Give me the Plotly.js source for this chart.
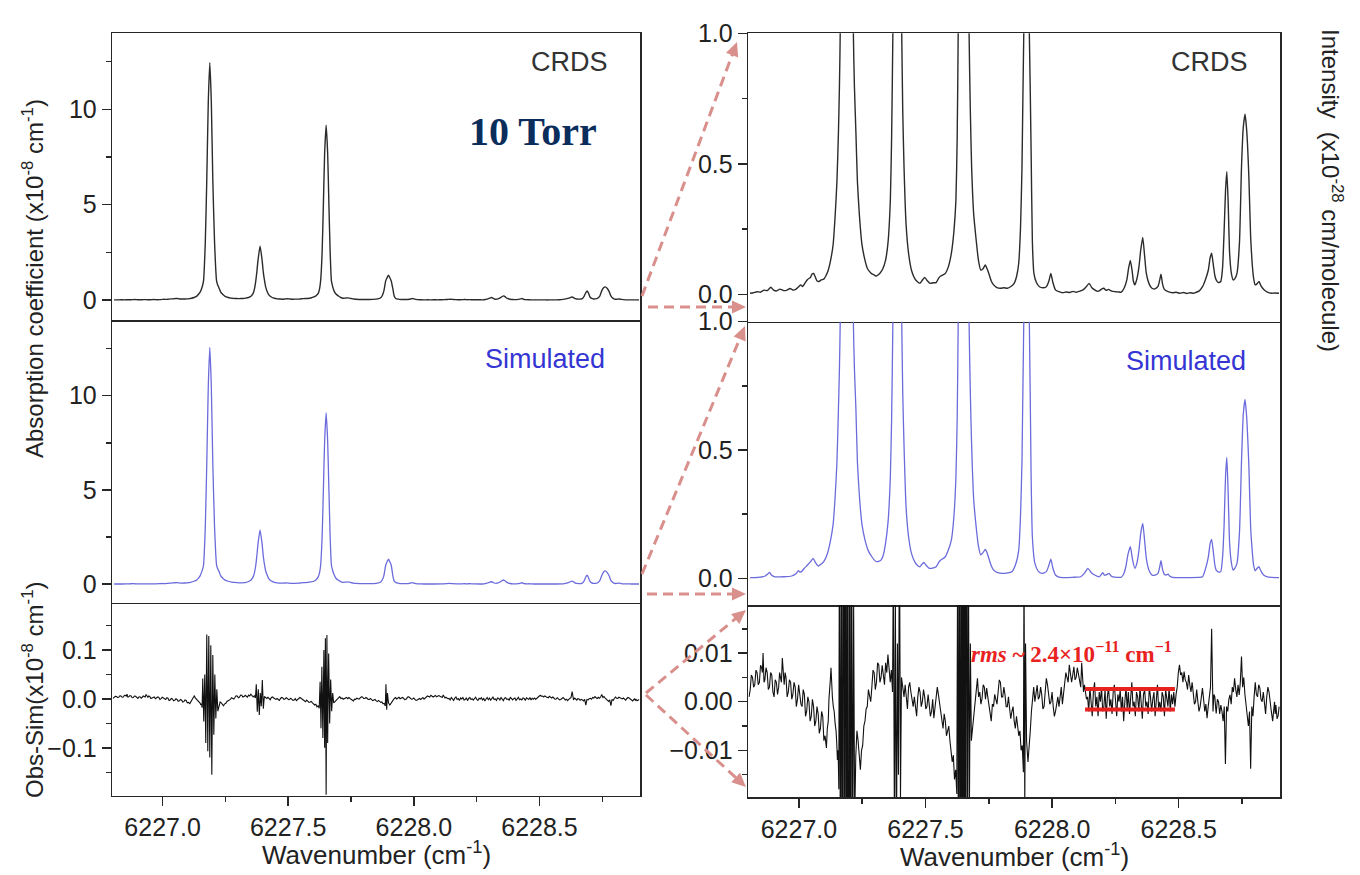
<!DOCTYPE html>
<html>
<head>
<meta charset="utf-8">
<script src="https://cdn.plot.ly/plotly-3.0.1.min.js"></script>
<style>html,body{margin:0;padding:0;background:#fff;}#chart{width:1360px;height:875px;}</style>
</head>
<body>
<div id="chart"></div>
<script>
// ---------------- DATA (wavenumber in cm^-1, absorption in 1e-8 cm^-1) ----------------
const crdsX = [6226.807,6226.820,6226.835,6226.848,6226.862,6226.875,6226.889,6226.900,6226.912,6226.925,6226.940,6226.953,6226.965,6226.978,6226.989,6227.000,6227.007,6227.015,6227.025,6227.034,6227.046,6227.052,6227.058,6227.064,6227.071,6227.079,6227.088,6227.098,6227.106,6227.115,6227.125,6227.135,6227.143,6227.150,6227.156,6227.160,6227.163,6227.170,6227.176,6227.182,6227.188,6227.194,6227.200,6227.207,6227.215,6227.219,6227.225,6227.231,6227.239,6227.249,6227.261,6227.270,6227.279,6227.288,6227.297,6227.305,6227.312,6227.319,6227.330,6227.342,6227.352,6227.361,6227.366,6227.371,6227.375,6227.380,6227.388,6227.396,6227.401,6227.406,6227.410,6227.415,6227.423,6227.433,6227.445,6227.457,6227.468,6227.478,6227.488,6227.497,6227.507,6227.518,6227.530,6227.542,6227.552,6227.560,6227.568,6227.578,6227.590,6227.602,6227.612,6227.620,6227.625,6227.629,6227.635,6227.640,6227.645,6227.651,6227.657,6227.662,6227.667,6227.672,6227.677,6227.682,6227.690,6227.700,6227.709,6227.718,6227.727,6227.736,6227.743,6227.750,6227.760,6227.769,6227.782,6227.796,6227.810,6227.823,6227.837,6227.850,6227.860,6227.868,6227.875,6227.881,6227.888,6227.894,6227.899,6227.904,6227.910,6227.917,6227.922,6227.928,6227.938,6227.950,6227.963,6227.977,6227.987,6227.995,6228.003,6228.013,6228.027,6228.041,6228.055,6228.070,6228.083,6228.095,6228.110,6228.122,6228.134,6228.146,6228.157,6228.168,6228.177,6228.186,6228.195,6228.204,6228.213,6228.222,6228.235,6228.249,6228.262,6228.273,6228.285,6228.295,6228.302,6228.309,6228.316,6228.321,6228.327,6228.335,6228.343,6228.350,6228.358,6228.365,6228.372,6228.383,6228.394,6228.406,6228.418,6228.425,6228.430,6228.436,6228.443,6228.458,6228.476,6228.490,6228.505,6228.520,6228.530,6228.545,6228.558,6228.567,6228.580,6228.594,6228.605,6228.617,6228.624,6228.630,6228.637,6228.643,6228.648,6228.656,6228.666,6228.673,6228.679,6228.685,6228.690,6228.695,6228.701,6228.708,6228.715,6228.722,6228.730,6228.740,6228.748,6228.755,6228.762,6228.769,6228.777,6228.784,6228.790,6228.796,6228.802,6228.809,6228.817,6228.825,6228.835,6228.850,6228.866,6228.880,6228.896];
const crdsY = [0.004,0.006,0.010,0.008,0.016,0.014,0.027,0.016,0.013,0.020,0.014,0.016,0.022,0.016,0.020,0.030,0.036,0.030,0.045,0.057,0.065,0.078,0.080,0.068,0.052,0.049,0.055,0.058,0.070,0.090,0.13,0.19,0.30,0.43,0.62,0.80,1.0,3.0,6.3,10.4,12.45,10.4,6.3,3.0,1.0,0.80,0.62,0.43,0.30,0.19,0.13,0.10,0.087,0.078,0.074,0.070,0.074,0.080,0.095,0.13,0.20,0.36,0.60,1.0,1.45,2.1,2.83,2.1,1.45,1.0,0.70,0.49,0.27,0.157,0.09,0.061,0.048,0.042,0.055,0.065,0.052,0.042,0.044,0.045,0.062,0.070,0.074,0.080,0.105,0.157,0.24,0.36,0.60,1.0,2.5,5.0,7.7,9.17,7.7,5.0,2.5,1.0,0.70,0.49,0.31,0.208,0.13,0.093,0.098,0.112,0.098,0.080,0.050,0.036,0.026,0.023,0.025,0.023,0.030,0.042,0.070,0.119,0.25,0.49,1.0,1.18,1.30,1.18,1.0,0.55,0.20,0.08,0.045,0.029,0.025,0.029,0.050,0.08,0.045,0.017,0.010,0.006,0.009,0.007,0.011,0.008,0.012,0.017,0.028,0.042,0.025,0.017,0.012,0.013,0.020,0.023,0.015,0.019,0.012,0.010,0.009,0.008,0.025,0.055,0.100,0.130,0.090,0.050,0.036,0.060,0.106,0.170,0.218,0.150,0.080,0.040,0.023,0.021,0.030,0.055,0.077,0.040,0.019,0.010,0.006,0.008,0.004,0.007,0.003,0.006,0.004,0.007,0.012,0.029,0.055,0.093,0.140,0.157,0.110,0.070,0.055,0.045,0.049,0.100,0.234,0.40,0.47,0.36,0.157,0.080,0.055,0.060,0.080,0.200,0.49,0.64,0.69,0.62,0.45,0.22,0.119,0.060,0.036,0.040,0.049,0.032,0.019,0.008,0.004,0.005,0.004];

const simX = [6226.807,6226.840,6226.865,6226.876,6226.884,6226.892,6226.905,6226.940,6226.971,6226.988,6226.998,6227.004,6227.011,6227.022,6227.034,6227.046,6227.056,6227.066,6227.076,6227.087,6227.098,6227.112,6227.125,6227.135,6227.143,6227.150,6227.156,6227.160,6227.163,6227.170,6227.176,6227.182,6227.188,6227.194,6227.200,6227.207,6227.215,6227.219,6227.225,6227.231,6227.239,6227.249,6227.261,6227.275,6227.288,6227.297,6227.306,6227.315,6227.324,6227.333,6227.342,6227.352,6227.361,6227.366,6227.371,6227.375,6227.380,6227.388,6227.396,6227.401,6227.406,6227.410,6227.415,6227.423,6227.433,6227.445,6227.457,6227.468,6227.478,6227.486,6227.493,6227.503,6227.515,6227.528,6227.542,6227.552,6227.560,6227.568,6227.578,6227.590,6227.602,6227.612,6227.620,6227.625,6227.629,6227.635,6227.640,6227.645,6227.651,6227.657,6227.662,6227.667,6227.672,6227.677,6227.682,6227.690,6227.700,6227.709,6227.718,6227.727,6227.736,6227.743,6227.750,6227.760,6227.769,6227.785,6227.805,6227.825,6227.841,6227.856,6227.868,6227.875,6227.881,6227.888,6227.894,6227.899,6227.904,6227.910,6227.917,6227.922,6227.932,6227.945,6227.959,6227.977,6227.987,6227.995,6228.003,6228.013,6228.027,6228.041,6228.080,6228.113,6228.128,6228.141,6228.155,6228.168,6228.186,6228.200,6228.207,6228.213,6228.225,6228.232,6228.240,6228.273,6228.284,6228.291,6228.300,6228.309,6228.318,6228.327,6228.335,6228.343,6228.350,6228.358,6228.365,6228.372,6228.383,6228.394,6228.406,6228.418,6228.425,6228.430,6228.436,6228.443,6228.450,6228.458,6228.465,6228.476,6228.530,6228.594,6228.605,6228.617,6228.624,6228.630,6228.637,6228.643,6228.648,6228.656,6228.666,6228.673,6228.679,6228.685,6228.690,6228.695,6228.701,6228.708,6228.715,6228.722,6228.730,6228.740,6228.748,6228.755,6228.762,6228.769,6228.777,6228.784,6228.790,6228.796,6228.802,6228.809,6228.817,6228.825,6228.835,6228.850,6228.866,6228.896];
const simY = [0.003,0.004,0.008,0.016,0.023,0.012,0.006,0.006,0.009,0.018,0.030,0.024,0.027,0.040,0.052,0.065,0.078,0.060,0.048,0.055,0.065,0.095,0.149,0.21,0.318,0.45,0.66,0.82,1.0,3.0,6.4,10.5,12.56,10.5,6.4,3.0,1.0,0.82,0.66,0.45,0.318,0.21,0.149,0.105,0.084,0.072,0.065,0.066,0.071,0.090,0.136,0.22,0.396,0.62,1.0,1.47,2.15,2.88,2.15,1.47,1.0,0.72,0.52,0.28,0.162,0.095,0.065,0.050,0.045,0.055,0.062,0.050,0.039,0.040,0.045,0.062,0.071,0.076,0.084,0.110,0.149,0.24,0.396,0.62,1.0,2.5,5.0,7.6,9.09,7.6,5.0,2.5,1.0,0.72,0.52,0.31,0.20,0.125,0.091,0.100,0.113,0.100,0.078,0.048,0.032,0.022,0.019,0.021,0.026,0.055,0.11,0.24,0.46,1.0,1.2,1.32,1.2,1.0,0.40,0.16,0.058,0.028,0.019,0.026,0.050,0.075,0.040,0.013,0.005,0.003,0.004,0.006,0.020,0.039,0.022,0.013,0.006,0.022,0.012,0.013,0.019,0.010,0.006,0.004,0.020,0.045,0.095,0.123,0.070,0.039,0.060,0.11,0.175,0.214,0.150,0.078,0.030,0.013,0.012,0.019,0.045,0.069,0.035,0.016,0.013,0.016,0.008,0.004,0.003,0.006,0.035,0.084,0.135,0.152,0.100,0.050,0.032,0.025,0.026,0.080,0.20,0.40,0.471,0.34,0.136,0.060,0.032,0.040,0.058,0.180,0.458,0.640,0.697,0.620,0.440,0.200,0.11,0.050,0.029,0.038,0.045,0.028,0.013,0.006,0.004,0.003];

const resX = [6226.8030,6226.8075,6226.8120,6226.8166,6226.8211,6226.8256,6226.8302,6226.8347,6226.8392,6226.8438,6226.8483,6226.8528,6226.8556,6226.8583,6226.8620,6226.8655,6226.8700,6226.8746,6226.8791,6226.8836,6226.8882,6226.8927,6226.8972,6226.9018,6226.9063,6226.9109,6226.9154,6226.9199,6226.9236,6226.9272,6226.9308,6226.9344,6226.9380,6226.9417,6226.9453,6226.9489,6226.9535,6226.9580,6226.9625,6226.9671,6226.9716,6226.9761,6226.9807,6226.9852,6226.9897,6226.9943,6226.9988,6227.0033,6227.0079,6227.0124,6227.0169,6227.0215,6227.0260,6227.0305,6227.0351,6227.0396,6227.0441,6227.0487,6227.0532,6227.0577,6227.0623,6227.0668,6227.0713,6227.0759,6227.0804,6227.0849,6227.0895,6227.0940,6227.0985,6227.1031,6227.1085,6227.1120,6227.1158,6227.1185,6227.1212,6227.1240,6227.1266,6227.1293,6227.1321,6227.1357,6227.1393,6227.1430,6227.1466,6227.1493,6227.1520,6227.1548,6227.1575,
6227.1600,6227.1640,6227.1680,6227.1720,6227.1760,6227.1800,6227.1840,6227.1880,6227.1920,6227.1960,6227.2000,6227.2040,6227.2080,6227.2120,6227.2160,6227.2200,
6227.2246,6227.2291,6227.2336,6227.2382,6227.2427,6227.2472,6227.2518,6227.2563,6227.2608,6227.2654,6227.2699,6227.2744,6227.2790,6227.2835,6227.2880,6227.2926,6227.2971,6227.3016,6227.3062,6227.3107,6227.3152,6227.3198,6227.3243,6227.3288,6227.3334,6227.3379,6227.3424,6227.3470,6227.3515,6227.3560,6227.3606,6227.3651,6227.3696,
6227.3730,6227.3770,6227.3810,6227.3850,6227.3890,6227.3930,6227.3970,6227.4010,6227.4050,
6227.4150,6227.4195,6227.4240,6227.4286,6227.4331,6227.4376,6227.4422,6227.4467,6227.4512,6227.4558,6227.4603,6227.4648,6227.4694,6227.4739,6227.4784,6227.4830,6227.4875,6227.4920,6227.4966,6227.5011,6227.5056,6227.5102,6227.5147,6227.5192,6227.5238,6227.5283,6227.5328,6227.5374,6227.5419,6227.5464,6227.5510,6227.5555,6227.5600,6227.5646,6227.5691,6227.5736,6227.5782,6227.5827,6227.5872,6227.5918,6227.5963,6227.6008,6227.6054,6227.6099,6227.6144,6227.6190,6227.6235,
6227.6270,6227.6305,6227.6340,6227.6380,6227.6420,6227.6450,6227.6480,6227.6510,6227.6540,6227.6570,6227.6610,6227.6650,6227.6690,6227.6730,6227.6770,6227.6810,
6227.6870,6227.6915,6227.6961,6227.7006,6227.7051,6227.7097,6227.7142,6227.7187,6227.7233,6227.7278,6227.7323,6227.7369,6227.7414,6227.7459,6227.7505,6227.7550,6227.7595,6227.7641,6227.7686,6227.7731,6227.7777,6227.7822,6227.7867,6227.7913,6227.7958,6227.8003,6227.8049,6227.8094,6227.8139,6227.8185,6227.8230,6227.8275,6227.8321,6227.8366,6227.8411,6227.8457,6227.8502,6227.8547,6227.8593,6227.8638,6227.8683,6227.8729,6227.8774,6227.8820,6227.8865,
6227.8890,6227.8920,6227.8950,6227.8990,
6227.9046,6227.9091,6227.9137,6227.9182,6227.9227,6227.9273,6227.9318,6227.9363,6227.9409,6227.9454,6227.9499,6227.9545,6227.9590,6227.9635,6227.9681,6227.9726,6227.9771,6227.9817,6227.9862,6227.9907,6227.9953,6227.9998,6228.0043,6228.0089,6228.0134,6228.0179,6228.0225,6228.0270,6228.0315,6228.0361,6228.0406,6228.0451,6228.0497,6228.0542,6228.0587,6228.0633,6228.0678,6228.0723,6228.0769,6228.0814,6228.0859,6228.0905,6228.0950,6228.0995,6228.1041,6228.1086,6228.1131,6228.1168,6228.1204,6228.1240,6228.1277,6228.1313,6228.1356,
6228.1400,6228.1446,6228.1492,6228.1538,6228.1584,6228.1630,6228.1676,6228.1722,6228.1768,6228.1814,6228.1860,6228.1906,6228.1952,6228.1998,6228.2044,6228.2090,6228.2136,6228.2182,6228.2228,6228.2274,6228.2320,6228.2366,6228.2412,6228.2458,6228.2504,6228.2550,6228.2596,6228.2642,6228.2688,6228.2734,6228.2780,6228.2826,6228.2872,6228.2918,6228.2964,6228.3010,6228.3056,6228.3102,6228.3148,6228.3194,6228.3240,6228.3286,6228.3332,6228.3378,6228.3424,6228.3470,6228.3516,6228.3562,6228.3608,6228.3654,6228.3700,6228.3746,6228.3792,6228.3838,6228.3884,6228.3930,6228.3976,6228.4022,6228.4068,6228.4114,6228.4160,6228.4206,6228.4252,6228.4298,6228.4344,6228.4390,6228.4436,6228.4482,6228.4528,6228.4574,6228.4620,6228.4666,6228.4712,6228.4758,6228.4804,6228.4850,
6228.4895,6228.4940,6228.4985,6228.5030,6228.5075,6228.5121,6228.5166,6228.5212,6228.5257,6228.5302,6228.5348,6228.5393,6228.5438,6228.5484,6228.5529,6228.5574,6228.5620,6228.5665,6228.5710,6228.5756,6228.5801,6228.5846,6228.5892,6228.5937,6228.5982,6228.6028,6228.6073,6228.6118,6228.6164,6228.6209,6228.6255,6228.6300,6228.6327,6228.6354,6228.6390,6228.6427,6228.6454,6228.6481,6228.6527,6228.6572,6228.6617,6228.6663,6228.6708,6228.6753,6228.6798,6228.6844,6228.6889,6228.6935,6228.6980,6228.7025,6228.7071,6228.7116,6228.7161,6228.7207,6228.7252,6228.7297,6228.7343,6228.7388,6228.7433,6228.7479,6228.7524,6228.7569,6228.7615,6228.7660,6228.7705,6228.7751,6228.7796,6228.7841,6228.7887,6228.7932,6228.7977,6228.8023,6228.8068,6228.8113,6228.8159,6228.8204,6228.8249,6228.8295,6228.8340,6228.8385,6228.8431,6228.8476,6228.8521,6228.8567,6228.8612,6228.8657,6228.8711,6228.8748,6228.8784,6228.8811,6228.8838,6228.8884,6228.8929,6228.8965];
const resY = [0.0010,0.0025,0.0055,0.0050,0.0030,0.0035,0.0065,0.0060,0.0035,0.0040,0.0075,0.0070,0.0060,0.0100,0.0040,0.0045,0.0070,0.0060,0.0025,0.0030,0.0060,0.0055,0.0020,0.0010,0.0045,0.0040,0.0015,0.0030,0.0060,0.0050,0.0040,0.0090,0.0050,0.0035,0.0060,0.0050,0.0010,0.0020,0.0045,0.0040,0.0005,0.0015,0.0040,0.0030,-0.0010,0.0005,0.0035,0.0020,-0.0005,-0.0010,0.0025,0.0015,-0.0030,-0.0020,0.0010,0.0000,-0.0040,-0.0030,0.0005,-0.0010,-0.0050,-0.0040,-0.0010,-0.0025,-0.0065,-0.0055,-0.0020,-0.0030,-0.0080,-0.0070,-0.0095,-0.0055,-0.0040,0.0005,0.0020,0.0045,0.0070,0.0025,0.0010,-0.0010,-0.0020,-0.0045,-0.0060,-0.0085,-0.0120,-0.0100,-0.0180,
0.042,-0.046,0.050,-0.090,0.132,-0.107,0.129,-0.120,0.110,-0.155,0.090,-0.073,0.050,-0.040,0.020,-0.025,
-0.0110,-0.0060,-0.0080,-0.0115,-0.0140,-0.0100,-0.0090,-0.0050,-0.0040,-0.0015,-0.0010,0.0025,0.0014,0.0000,0.0030,0.0065,0.0060,0.0025,0.0040,0.0080,0.0076,0.0040,0.0050,0.0075,0.0055,0.0035,0.0080,0.0060,0.0097,0.0060,0.0040,0.0065,0.0020,
0.030,-0.026,0.020,-0.033,0.012,-0.015,0.039,-0.020,0.005,
0.0010,0.0035,0.0000,-0.0015,0.0030,0.0040,0.0020,0.0005,-0.0010,0.0010,-0.0014,-0.0030,0.0010,0.0030,0.0020,-0.0010,0.0000,0.0025,0.0010,-0.0015,-0.0010,0.0015,-0.0007,-0.0030,-0.0020,0.0005,-0.0034,-0.0015,0.0000,0.0030,0.0014,-0.0005,-0.0020,-0.0045,-0.0055,-0.0025,-0.0040,-0.0070,-0.0062,-0.0050,-0.0080,-0.0105,-0.0124,-0.0110,-0.0160,-0.0140,-0.0190,
0.035,-0.060,0.066,-0.080,0.100,-0.100,0.124,-0.196,0.131,-0.090,0.093,-0.050,0.040,-0.025,0.012,-0.008,
-0.0048,-0.0020,0.0000,0.0030,0.0048,0.0010,0.0020,-0.0005,0.0007,0.0035,0.0030,0.0005,0.0028,0.0010,-0.0010,-0.0025,-0.0040,-0.0005,-0.0010,0.0015,0.0007,-0.0005,0.0020,0.0045,0.0040,0.0010,0.0010,0.0030,0.0014,-0.0010,-0.0010,0.0010,-0.0014,-0.0035,-0.0020,-0.0010,-0.0040,-0.0055,-0.0030,-0.0050,-0.0070,-0.0060,-0.0100,-0.0090,-0.0145,
0.030,-0.022,0.012,-0.008,
-0.0124,-0.0080,-0.0060,-0.0020,0.0010,0.0030,0.0000,0.0015,0.0034,0.0005,0.0010,0.0030,0.0014,-0.0015,-0.0010,0.0020,0.0048,0.0035,0.0020,-0.0005,0.0000,0.0020,-0.0010,-0.0030,-0.0020,0.0000,0.0010,-0.0010,0.0014,0.0030,-0.0005,0.0015,0.0034,0.0060,0.0050,0.0040,0.0076,0.0060,0.0040,0.0055,0.0072,0.0045,0.0050,0.0070,0.0055,0.0040,0.0030,0.0080,0.0045,0.0020,0.0035,0.0020,0.0005,
0.0010,-0.0020,0.0030,0.0000,-0.0030,0.0020,0.0040,-0.0010,0.0010,-0.0030,0.0020,0.0000,0.0030,-0.0020,-0.0010,0.0025,-0.0035,0.0010,0.0030,-0.0010,0.0005,-0.0025,0.0020,0.0035,-0.0010,-0.0030,0.0015,0.0000,0.0025,-0.0020,0.0010,-0.0040,0.0000,0.0030,-0.0015,0.0020,-0.0025,0.0010,0.0040,-0.0010,0.0000,-0.0030,0.0020,0.0010,-0.0020,0.0030,-0.0005,-0.0035,0.0015,0.0025,-0.0010,0.0000,-0.0025,0.0030,0.0010,-0.0020,0.0005,0.0020,-0.0030,0.0010,0.0035,-0.0015,0.0000,-0.0020,0.0020,0.0010,-0.0030,0.0025,0.0000,-0.0010,0.0030,-0.0020,0.0015,-0.0005,0.0020,-0.0010,
0.0015,0.0030,0.0060,0.0076,0.0055,0.0060,0.0040,0.0062,0.0045,0.0040,0.0025,0.0055,0.0035,0.0020,0.0040,0.0020,-0.0005,0.0000,0.0025,0.0000,-0.0020,-0.0010,0.0015,0.0028,0.0005,-0.0020,-0.0005,-0.0034,-0.0010,0.0010,0.0030,0.0150,0.0020,-0.0020,0.0015,0.0010,-0.0010,-0.0024,0.0005,0.0000,-0.0025,-0.0007,-0.0020,-0.0040,-0.0010,-0.0128,-0.0010,-0.0020,0.0005,0.0014,-0.0005,0.0030,0.0020,0.0048,0.0025,0.0010,0.0035,0.0014,0.0040,0.0093,0.0030,0.0050,0.0015,-0.0007,-0.0030,-0.0050,-0.0020,-0.0138,-0.0010,-0.0030,0.0010,0.0040,0.0015,0.0010,0.0035,0.0028,0.0005,0.0000,0.0020,-0.0007,-0.0025,0.0010,0.0030,0.0020,-0.0005,-0.0020,-0.0040,-0.0015,0.0000,-0.0025,-0.0007,-0.0035,-0.0028,-0.0010];

// rms band markers (x extent, upper and lower levels)
const rmsX = [6228.13, 6228.485];
const rmsUpper = [0.0026, 0.0026];
const rmsLower = [-0.0016, -0.0016];

// ---------------- LAYOUT HELPERS ----------------
const W = 1360, H = 875;
const px = x => x / W;
const py = y => 1 - y / H;

const LX = [px(112.3), px(640)], RX = [px(748.3), px(1280)];
const L1 = [py(320), py(33.3)], L2 = [py(602.7), py(320)], L3 = [py(795.7), py(602.7)];
const R1 = [py(321.7), py(33.3)], R2 = [py(605), py(321.7)], R3 = [py(797), py(605)];

const FONT = 'Arial, "Liberation Sans", sans-serif';
const SERIF = '"Liberation Serif", "Times New Roman", serif';
const AXC = '#262626';
const tickFont = {family: FONT, size: 25, color: '#222'};

function xAx(domain, anchor, bottom, mirror) {
  const a = {domain, anchor, range: [6226.8, 6228.9], showline: true, mirror: mirror, linecolor: AXC, linewidth: 1.6,
    showgrid: false, zeroline: false, fixedrange: true};
  if (bottom) {
    Object.assign(a, {ticks: 'outside', ticklen: 9, tickwidth: 1.5, tickcolor: AXC, tick0: 6227, dtick: 0.5,
      tickformat: '.1f', tickfont: tickFont,
      minor: {ticks: 'outside', dtick: 0.25, tick0: 6227, ticklen: 5, tickwidth: 1.5, tickcolor: AXC, showgrid: false}});
  } else {
    Object.assign(a, {ticks: '', showticklabels: false});
  }
  return a;
}
function yAx(domain, anchor, range, dtick, fmt, minor) {
  return {domain, anchor, range, showline: true, mirror: true, linecolor: AXC, linewidth: 1.6,
    showgrid: false, zeroline: false, fixedrange: true,
    ticks: 'outside', ticklen: 9, tickwidth: 1.5, tickcolor: AXC, tick0: 0, dtick, tickformat: fmt, tickfont: tickFont,
    minor: {ticks: 'outside', dtick: minor, tick0: 0, ticklen: 5, tickwidth: 1.5, tickcolor: AXC, showgrid: false}};
}

const blackLine = {color: '#2b2b2b', width: 1.4, shape: 'spline', smoothing: 0.5};
const blueLine = {color: '#6b6bdc', width: 1.3, shape: 'spline', smoothing: 0.5};
const resLine = {color: '#111111', width: 1.1};
const red = '#e8231f';

const traces = [
  {x: crdsX, y: crdsY, xaxis: 'x', yaxis: 'y', mode: 'lines', line: blackLine},
  {x: simX, y: simY, xaxis: 'x2', yaxis: 'y2', mode: 'lines', line: blueLine},
  {x: resX, y: resY, xaxis: 'x3', yaxis: 'y3', mode: 'lines', line: resLine},
  {x: crdsX, y: crdsY, xaxis: 'x4', yaxis: 'y4', mode: 'lines', line: blackLine},
  {x: simX, y: simY, xaxis: 'x5', yaxis: 'y5', mode: 'lines', line: blueLine},
  {x: resX, y: resY, xaxis: 'x6', yaxis: 'y6', mode: 'lines', line: resLine},
  {x: rmsX, y: rmsUpper, xaxis: 'x6', yaxis: 'y6', mode: 'lines', line: {color: red, width: 4}},
  {x: rmsX, y: rmsLower, xaxis: 'x6', yaxis: 'y6', mode: 'lines', line: {color: red, width: 4}}
];

// ---------------- ARROWS (dashed, pink) ----------------
const arrowColor = '#d9908c';
const arrows = [
  [642, 296, 737, 42],
  [648, 307, 746, 307],
  [642, 574, 745, 326],
  [647, 594, 746, 594],
  [646, 693, 746, 610],
  [646, 695, 746, 787]
];
const shapes = [];
arrows.forEach(([sx, sy, tx, ty]) => {
  const dx = tx - sx, dy = ty - sy, len = Math.hypot(dx, dy);
  const ux = dx / len, uy = dy / len;
  const L = 14, Wd = 6.5;
  const bx = tx - L * ux, by = ty - L * uy;
  const nx = -uy, ny = ux;
  shapes.push({type: 'line', xref: 'paper', yref: 'paper', x0: px(sx), y0: py(sy), x1: px(bx + 2 * ux), y1: py(by + 2 * uy),
    line: {color: arrowColor, width: 3, dash: '10px,6px'}});
  const path = `M ${px(tx)} ${py(ty)} L ${px(bx + Wd * nx)} ${py(by + Wd * ny)} L ${px(bx - Wd * nx)} ${py(by - Wd * ny)} Z`;
  shapes.push({type: 'path', xref: 'paper', yref: 'paper', path, fillcolor: arrowColor, line: {width: 0}});
});

function ann(text, x, y, size, color, extra, family) {
  return Object.assign({text, xref: 'paper', yref: 'paper', x: px(x), y: py(y), xanchor: 'center', yanchor: 'middle',
    showarrow: false, font: {family: family || FONT, size, color}}, extra || {});
}

const annotations = [
  ann('CRDS', 569, 61.5, 27, '#333'),
  ann('CRDS', 1209, 61.5, 27, '#333'),
  ann('Simulated', 545, 359, 27, '#3535d4'),
  ann('Simulated', 1186, 361, 27, '#3535d4'),
  ann('<b>10 Torr</b>', 533, 132, 40, '#0b2d5c', null, SERIF),
  ann('<b><i>rms</i> ~ 2.4×10<sup>−11</sup> cm<sup>−1</sup></b>', 1071, 652, 23, red, null, SERIF),
  ann('Wavenumber (cm<sup>-1</sup>)', 376, 853, 26, '#222'),
  ann('Wavenumber (cm<sup>-1</sup>)', 1014, 855, 26, '#222'),
  ann('Absorption coefficient (x10<sup>-8</sup> cm<sup>-1</sup>)', 33, 279, 24, '#222', {textangle: -90}),
  ann('Obs-Sim(x10<sup>-8</sup> cm<sup>-1</sup>)', 33, 690, 24, '#222', {textangle: -90}),
  ann('Intensity  (x10<sup>-28</sup> cm/molecule)', 1332, 190, 24, '#222', {textangle: 90})
];

const layout = {
  width: W, height: H, margin: {l: 0, r: 0, t: 0, b: 0, pad: 0},
  paper_bgcolor: '#fff', plot_bgcolor: '#fff', showlegend: false, hovermode: false,
  xaxis: xAx(LX, 'y', false, true),
  xaxis2: xAx(LX, 'y2', false, false),
  xaxis3: xAx(LX, 'y3', true, false),
  xaxis4: xAx(RX, 'y4', false, true),
  xaxis5: xAx(RX, 'y5', false, false),
  xaxis6: xAx(RX, 'y6', true, false),
  yaxis: yAx(L1, 'x', [-1.05, 13.99], 5, 'd', 2.5),
  yaxis2: yAx(L2, 'x2', [-0.99, 14.02], 5, 'd', 2.5),
  yaxis3: yAx(L3, 'x3', [-0.198, 0.197], 0.1, '.1f', 0.05),
  yaxis4: yAx(R1, 'x4', [-0.105, 1.0], 0.5, '.1f', 0.25),
  yaxis5: yAx(R2, 'x5', [-0.104, 1.0], 0.5, '.1f', 0.25),
  yaxis6: yAx(R3, 'x6', [-0.0196, 0.0199], 0.01, '.2f', 0.005),
  yaxis7: Object.assign(yAx(R1, 'x4', [-0.945, 9.0], 5, 'd', 2.5), {overlaying: 'y4', side: 'right', showline: false, mirror: false}),
  shapes, annotations
};

Plotly.newPlot('chart', traces, layout, {displayModeBar: false, staticPlot: true});
</script>
</body>
</html>
